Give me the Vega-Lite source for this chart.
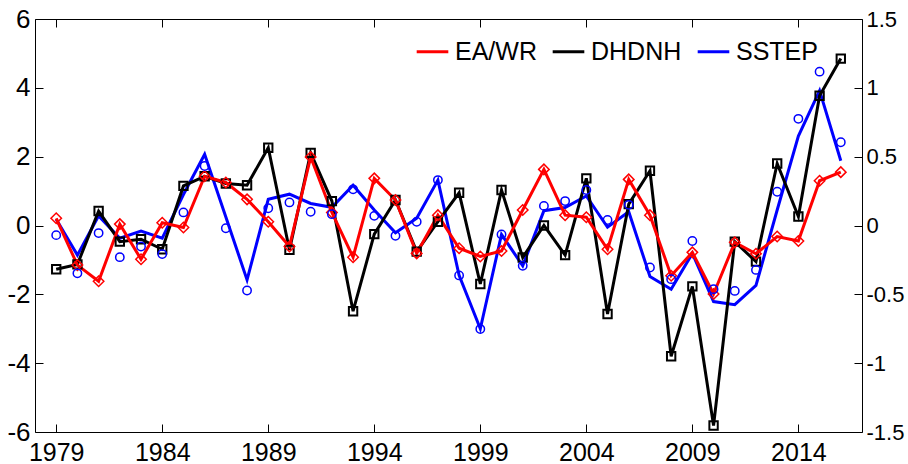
{
  "$schema": "https://vega.github.io/schema/vega-lite/v6.json",
  "width": 827,
  "height": 413,
  "autosize": "none",
  "padding": {"left": 35, "top": 19, "right": 46, "bottom": 32},
  "config": {
    "font": "Liberation Sans",
    "view": {"stroke": "#000000", "strokeWidth": 1},
    "axis": {"grid": false, "domainColor": "#000000", "tickColor": "#000000", "labelColor": "#000000", "title": null}
  },
  "datasets": {
    "d": [
      {"year": 1979, "EA": 0.21, "DHD": -1.27, "SSTl": 0.18, "SSTp": -0.28},
      {"year": 1980, "EA": -1.15, "DHD": -1.13, "SSTl": -0.86, "SSTp": -1.39},
      {"year": 1981, "EA": -1.62, "DHD": 0.42, "SSTl": 0.28, "SSTp": -0.22},
      {"year": 1982, "EA": 0.04, "DHD": -0.47, "SSTl": -0.37, "SSTp": -0.92},
      {"year": 1983, "EA": -0.98, "DHD": -0.40, "SSTl": -0.16, "SSTp": -0.61},
      {"year": 1984, "EA": 0.08, "DHD": -0.69, "SSTl": -0.37, "SSTp": -0.83},
      {"year": 1985, "EA": -0.06, "DHD": 1.15, "SSTl": 0.9, "SSTp": 0.38},
      {"year": 1986, "EA": 1.43, "DHD": 1.43, "SSTl": 2.07, "SSTp": 1.73},
      {"year": 1987, "EA": 1.25, "DHD": 1.22, "SSTl": 0.25, "SSTp": -0.08},
      {"year": 1988, "EA": 0.76, "DHD": 1.17, "SSTl": -1.58, "SSTp": -1.89},
      {"year": 1989, "EA": 0.11, "DHD": 2.26, "SSTl": 0.76, "SSTp": 0.50},
      {"year": 1990, "EA": -0.61, "DHD": -0.71, "SSTl": 0.91, "SSTp": 0.67},
      {"year": 1991, "EA": 1.99, "DHD": 2.11, "SSTl": 0.64, "SSTp": 0.40},
      {"year": 1992, "EA": 0.38, "DHD": 0.71, "SSTl": 0.53, "SSTp": 0.33},
      {"year": 1993, "EA": -0.92, "DHD": -2.49, "SSTl": 1.17, "SSTp": 1.05},
      {"year": 1994, "EA": 1.37, "DHD": -0.25, "SSTl": 0.45, "SSTp": 0.28},
      {"year": 1995, "EA": 0.74, "DHD": 0.74, "SSTl": -0.21, "SSTp": -0.30},
      {"year": 1996, "EA": -0.81, "DHD": -0.76, "SSTl": 0.21, "SSTp": 0.11},
      {"year": 1997, "EA": 0.30, "DHD": 0.11, "SSTl": 1.32, "SSTp": 1.32},
      {"year": 1998, "EA": -0.66, "DHD": 0.95, "SSTl": -1.45, "SSTp": -1.45},
      {"year": 1999, "EA": -0.90, "DHD": -1.70, "SSTl": -3.0, "SSTp": -3.01},
      {"year": 2000, "EA": -0.74, "DHD": 1.03, "SSTl": -0.26, "SSTp": -0.26},
      {"year": 2001, "EA": 0.45, "DHD": -0.93, "SSTl": -1.17, "SSTp": -1.17},
      {"year": 2002, "EA": 1.63, "DHD": 0.0, "SSTl": 0.43, "SSTp": 0.57},
      {"year": 2003, "EA": 0.30, "DHD": -0.86, "SSTl": 0.52, "SSTp": 0.71},
      {"year": 2004, "EA": 0.24, "DHD": 1.37, "SSTl": 0.86, "SSTp": 1.03},
      {"year": 2005, "EA": -0.69, "DHD": -2.57, "SSTl": -0.05, "SSTp": 0.16},
      {"year": 2006, "EA": 1.34, "DHD": 0.62, "SSTl": 0.40, "SSTp": 0.60},
      {"year": 2007, "EA": 0.30, "DHD": 1.59, "SSTl": -1.48, "SSTp": -1.22},
      {"year": 2008, "EA": -1.46, "DHD": -3.80, "SSTl": -1.85, "SSTp": -1.56},
      {"year": 2009, "EA": -0.78, "DHD": -1.77, "SSTl": -0.81, "SSTp": -0.45},
      {"year": 2010, "EA": -1.99, "DHD": -5.81, "SSTl": -2.21, "SSTp": -1.85},
      {"year": 2011, "EA": -0.49, "DHD": -0.47, "SSTl": -2.30, "SSTp": -1.90},
      {"year": 2012, "EA": -0.82, "DHD": -1.05, "SSTl": -1.74, "SSTp": -1.29},
      {"year": 2013, "EA": -0.32, "DHD": 1.80, "SSTl": 0.45, "SSTp": 0.98},
      {"year": 2014, "EA": -0.45, "DHD": 0.26, "SSTl": 2.6, "SSTp": 3.10},
      {"year": 2015, "EA": 1.30, "DHD": 3.77, "SSTl": 3.92, "SSTp": 4.47},
      {"year": 2016, "EA": 1.55, "DHD": 4.85, "SSTl": 1.88, "SSTp": 2.42}
    ]
  },
  "resolve": {"scale": {"y": "independent"}},
  "layer": [
    {
      "mark": {"type": "rule", "color": "#8c8c8c", "strokeWidth": 1},
      "encoding": {
        "y": {
          "datum": 0,
          "type": "quantitative",
          "scale": {"domain": [-1.5, 1.5], "nice": false, "zero": false},
          "axis": {
            "orient": "right",
            "values": [-1.5, -1, -0.5, 0, 0.5, 1, 1.5],
            "labelExpr": "datum.value + ''",
            "tickSize": -8,
            "labelPadding": 12,
            "labelFontSize": 22,
            "domain": false
          }
        }
      }
    },
    {
      "data": {"name": "d"},
      "resolve": {"axis": {"x": "independent"}},
      "layer": [
        {
          "mark": {"type": "line", "strokeWidth": 3},
          "encoding": {
            "x": {
              "field": "year", "type": "quantitative",
              "scale": {"domain": [1978, 2017], "nice": false, "zero": false},
              "axis": {
                "orient": "bottom",
                "values": [1979, 1984, 1989, 1994, 1999, 2004, 2009, 2014],
                "labelExpr": "datum.value + ''",
                "tickSize": -8,
                "labelPadding": 16,
                "labelFontSize": 25,
                "domain": false
              }
            },
            "y": {
              "field": "SSTl", "type": "quantitative",
              "scale": {"domain": [-6, 6], "nice": false, "zero": false},
              "axis": {
                "orient": "left",
                "values": [-6, -4, -2, 0, 2, 4, 6],
                "labelExpr": "datum.value + ''",
                "tickSize": -8,
                "labelPadding": 13,
                "labelFontSize": 26,
                "domain": false
              }
            },
            "color": {
              "datum": "SSTEP",
              "type": "nominal",
              "scale": {"domain": ["EA/WR", "DHDNH", "SSTEP"], "range": ["#ff0000", "#000000", "#0000ff"]},
              "legend": {
                "orient": "none",
                "legendX": 380,
                "legendY": 15,
                "direction": "horizontal",
                "title": null,
                "symbolType": "stroke",
                "symbolStrokeWidth": 3,
                "symbolSize": 1000,
                "labelFontSize": 25,
                "labelColor": "#000000",
                "labelOffset": 5,
                "columnPadding": 9,
                "padding": 0
              }
            }
          }
        },
        {
          "mark": {"type": "line", "strokeWidth": 3},
          "encoding": {
            "x": {"field": "year", "type": "quantitative", "axis": null},
            "y": {"field": "DHD", "type": "quantitative"},
            "color": {"datum": "DHDNH", "type": "nominal"}
          }
        },
        {
          "mark": {"type": "line", "strokeWidth": 3},
          "encoding": {
            "x": {"field": "year", "type": "quantitative", "axis": null},
            "y": {"field": "EA", "type": "quantitative"},
            "color": {"datum": "EA/WR", "type": "nominal"}
          }
        },
        {
          "mark": {"type": "point", "shape": "square", "filled": false, "color": "#000000", "strokeWidth": 2, "size": 70, "opacity": 1},
          "encoding": {
            "x": {"field": "year", "type": "quantitative", "axis": null},
            "y": {"field": "DHD", "type": "quantitative"}
          }
        },
        {
          "mark": {"type": "point", "shape": "diamond", "filled": false, "color": "#ff0000", "strokeWidth": 1.5, "size": 110, "opacity": 1},
          "encoding": {
            "x": {
              "field": "year", "type": "quantitative",
              "axis": {
                "orient": "top",
                "values": [1979, 1984, 1989, 1994, 1999, 2004, 2009, 2014],
                "labels": false,
                "tickSize": -8,
                "domain": false
              }
            },
            "y": {"field": "EA", "type": "quantitative"}
          }
        },
        {
          "mark": {"type": "point", "shape": "circle", "filled": false, "color": "#0000ff", "strokeWidth": 1.5, "size": 70, "opacity": 1},
          "encoding": {
            "x": {"field": "year", "type": "quantitative", "axis": null},
            "y": {"field": "SSTp", "type": "quantitative"}
          }
        }
      ]
    }
  ]
}
